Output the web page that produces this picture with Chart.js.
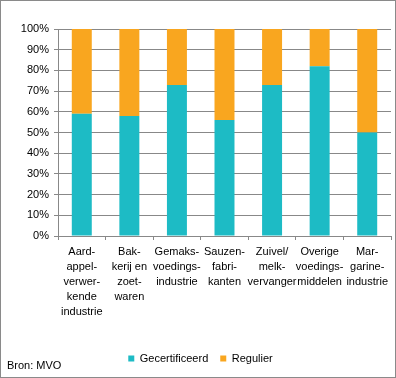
<!DOCTYPE html>
<html>
<head>
<meta charset="utf-8">
<script src="https://cdn.jsdelivr.net/npm/chart.js@4"></script>
<style>
html,body{margin:0;padding:0;background:#fff;}
canvas{display:block;}
</style>
</head>
<body>
<canvas id="c" width="396" height="378"></canvas>
<script>
const categories = [
  ["Aard-","appel-","verwer-","kende","industrie"],
  ["Bak-","kerij en","zoet-","waren"],
  ["Gemaks-","voedings-","industrie"],
  ["Sauzen-","fabri-","kanten"],
  ["Zuivel/","melk-","vervanger"],
  ["Overige","voedings-","middelen"],
  ["Mar-","garine-","industrie"]
];
const gecertificeerd = [59, 58, 73, 56, 73, 82, 50];
const regulier = [41, 42, 27, 44, 27, 18, 50];
const seriesNames = ["Gecertificeerd", "Regulier"];
const sourceText = "Bron: MVO";

const FONT = "'Liberation Sans', Arial, sans-serif";
const GRID = '#888888';

const framePlugin = {
  id: 'frame',
  beforeDraw(chart) {
    const ctx = chart.ctx;
    ctx.save();
    ctx.fillStyle = '#fff';
    ctx.fillRect(0, 0, chart.width, chart.height);
    ctx.restore();
  },
  afterDraw(chart) {
    const ctx = chart.ctx;
    ctx.save();
    ctx.strokeStyle = '#8a8a8a';
    ctx.lineWidth = 1;
    ctx.strokeRect(0.5, 0.5, chart.width - 1, chart.height - 1);
    ctx.fillStyle = '#000';
    ctx.font = "11px " + FONT;
    ctx.textBaseline = 'middle';
    ctx.textAlign = 'left';
    ctx.fillText(sourceText, 7, 366);
    ctx.restore();
  }
};

new Chart(document.getElementById('c'), {
  type: 'bar',
  data: {
    labels: categories,
    datasets: [
      { label: seriesNames[0], data: gecertificeerd, backgroundColor: '#1DBBC5', borderWidth: 0 },
      { label: seriesNames[1], data: regulier, backgroundColor: '#F9A61F', borderWidth: 0 }
    ]
  },
  options: {
    responsive: false,
    animation: false,
    devicePixelRatio: 1,
    layout: { padding: { left: 10, right: 5, top: 29, bottom: 4 } },
    datasets: { bar: { categoryPercentage: 1, barPercentage: 0.42 } },
    plugins: {
      legend: {
        position: 'bottom',
        labels: {
          boxWidth: 6, boxHeight: 6, padding: 12,
          color: '#000',
          font: { family: FONT, size: 11 }
        }
      },
      tooltip: { enabled: false },
      title: { display: false }
    },
    scales: {
      x: {
        stacked: true,
        grid: { display: true, drawOnChartArea: false, drawTicks: true, tickLength: 4, color: GRID, offset: true },
        border: { color: GRID },
        ticks: {
          color: '#000', padding: 4, maxRotation: 0, minRotation: 0, autoSkip: false,
          font: { family: FONT, size: 11, lineHeight: 15/11 }
        },
        afterFit(scale) { scale.height = 105; }
      },
      y: {
        stacked: true,
        min: 0, max: 100,
        grid: { color: GRID, drawTicks: true, tickLength: 4 },
        border: { color: GRID },
        ticks: {
          stepSize: 10, color: '#000', padding: 5,
          font: { family: FONT, size: 11 },
          callback: v => v + '%'
        },
        afterFit(scale) { scale.width = 48; }
      }
    }
  },
  plugins: [framePlugin]
});
</script>
</body>
</html>
